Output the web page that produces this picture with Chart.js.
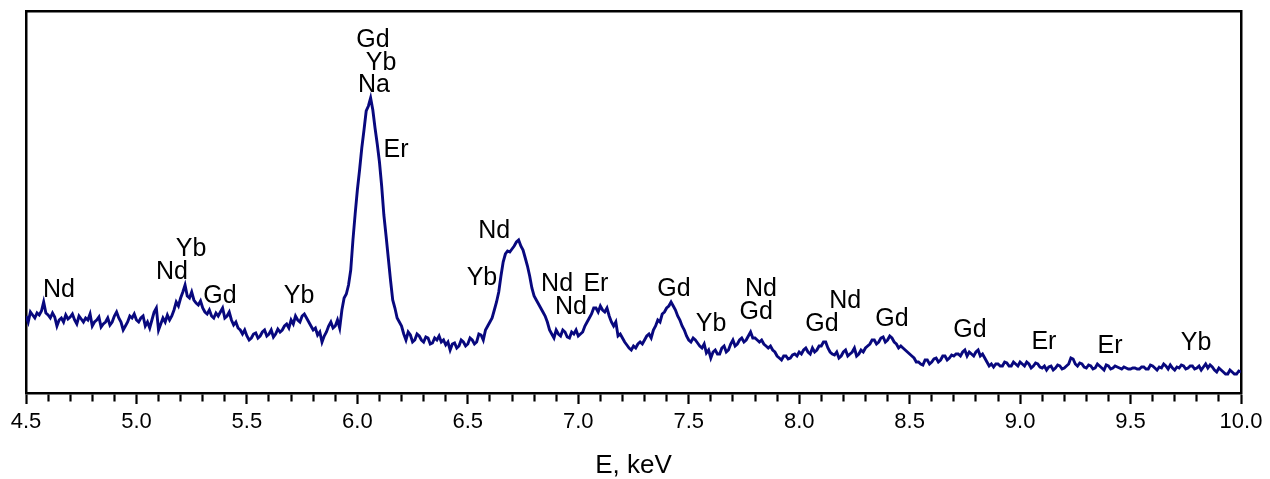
<!DOCTYPE html>
<html><head><meta charset="utf-8">
<style>html,body{margin:0;padding:0;background:#fff}#wrap{width:1270px;height:479px}</style>
<script src="https://cdn.jsdelivr.net/npm/chart.js@4.4.1/dist/chart.umd.min.js"></script>
</head><body><div id="wrap"><canvas id="c" width="1270" height="479"></canvas></div>
<script>
// Energy grid (keV) of the spectrum samples
const energyStart = 4.5;
const energyStep = 0.01;
// Counts (arbitrary units), one per 0.01 keV from 4.50 to 10.00
const counts = [
  76,70,80,77,74,79,77,81,90,79, 77,74,79,75,66,72,74,70,77,73, 75,78,72,68,76,73,70,74,72,78, 66,70,72,75,65,68,70,74,67,70, 76,80,74,70,62,66,70,76,74,78,
  72,70,74,76,66,70,64,72,80,84, 62,68,74,70,77,72,76,82,90,86, 94,100,107,96,94,100,92,89,87,91, 84,80,78,82,76,74,79,76,80,84, 74,76,80,72,67,70,64,62,58,62,
  56,52,54,58,59,54,56,60,62,56, 58,62,55,58,63,60,62,66,68,64, 72,68,76,72,70,76,78,74,70,66, 62,64,57,60,50,56,60,66,70,64, 66,72,64,82,94,98,107,122,152,178,
  202,222,244,262,281,286,294,282,264,248, 230,206,177,156,134,112,92,84,74,70, 66,58,52,60,57,50,52,58,56,52, 50,55,54,48,49,54,52,56,50,52, 47,50,42,48,49,44,46,52,50,46,
  48,54,52,48,50,58,57,52,62,66, 70,74,82,90,100,116,130,138,141,140, 143,146,150,152,146,142,134,126,116,104, 96,92,88,84,80,76,70,62,58,54, 62,58,56,62,60,55,54,60,58,62,
  56,58,60,66,70,74,78,84,84,80, 86,82,80,84,76,70,66,70,56,58, 54,50,47,44,42,46,44,48,50,48, 52,56,58,54,62,66,72,70,78,80, 84,86,90,86,82,76,72,66,62,56,
  52,50,54,52,49,46,44,48,39,42, 34,40,42,38,38,44,46,40,42,48, 52,46,48,52,54,50,52,56,60,54, 54,52,50,52,48,46,44,46,42,40, 36,34,32,36,36,33,34,37,38,36,
  40,38,42,44,40,38,44,40,42,46, 46,50,50,44,40,38,37,40,34,36, 40,42,36,38,40,44,36,38,42,40, 44,46,48,52,52,48,50,54,55,50, 52,56,54,50,48,44,46,44,42,40,
  38,36,34,30,30,28,27,32,32,28, 30,33,34,30,32,36,36,32,34,37, 36,38,38,36,40,42,36,40,38,36, 40,42,36,38,34,30,26,28,25,28, 28,26,26,30,29,26,26,30,28,26,
  30,28,26,30,28,24,26,29,28,25, 24,26,22,25,26,22,24,27,26,23, 24,26,28,34,33,28,26,29,28,25, 24,27,26,23,24,28,26,24,22,27, 26,23,24,26,25,24,23,25,24,23,
  23,24,24,23,23,25,25,23,23,27, 26,24,22,25,24,28,26,23,27,24, 22,25,24,27,26,23,24,26,26,23, 24,26,22,25,28,24,27,25,22,20, 24,22,20,18,18,22,20,18,18,21,
  20
];
const energies = counts.map((_, i) => +(energyStart + i * energyStep).toFixed(2));

// Axis range and tick labels
const xMin = 4.5, xMax = 10.0;
const xMajorLabels = ['4.5','5.0','5.5','6.0','6.5','7.0','7.5','8.0','8.5','9.0','9.5','10.0'];
const yMin = -1, yMax = 381;

// Element labels: text, energy (keV) and level (counts) of the text centre
const peakLabels      = ['Nd','Nd','Yb','Gd','Yb','Gd','Yb','Na','Er','Nd','Yb','Nd','Er','Nd','Gd','Yb','Nd','Gd','Gd','Nd','Gd','Gd','Er','Er','Yb'];
const peakLabelEnergy = [4.649,5.161,5.247,5.378,5.736,6.071,6.107,6.075,6.175,6.619,6.564,6.904,7.080,6.967,7.433,7.601,7.827,7.805,8.103,8.208,8.420,8.773,9.108,9.407,9.797];
const peakLabelLevel  = [102,120,143,96,96,352,329,307,242,161,114,108,108,85,103,68,103,80,68,91,73,62,50,46,49];

const FONT = '"Liberation Sans", Arial, Helvetica, sans-serif';
const isMajor = v => Math.abs(v * 2 - Math.round(v * 2)) < 1e-6;

const labelPlugin = {
  id: 'peakLabels',
  afterDatasetsDraw(chart) {
    const {ctx, scales: {x, y}} = chart;
    ctx.save();
    ctx.font = '25px ' + FONT;
    ctx.fillStyle = '#000';
    ctx.textAlign = 'center';
    ctx.textBaseline = 'middle';
    peakLabels.forEach((t, i) => {
      ctx.fillText(t, x.getPixelForValue(peakLabelEnergy[i]), y.getPixelForValue(peakLabelLevel[i]));
    });
    ctx.restore();
  }
};

const frameBorder = {display: true, color: '#000', width: 2.5};

new Chart(document.getElementById('c'), {
  type: 'line',
  data: {
    datasets: [{
      data: energies.map((e, i) => ({x: e, y: counts[i]})),
      borderColor: '#08087e',
      borderWidth: 2.9,
      pointRadius: 0,
      tension: 0,
      fill: false
    }]
  },
  options: {
    responsive: false,
    animation: false,
    devicePixelRatio: 1,
    layout: {padding: 0},
    plugins: {legend: {display: false}, tooltip: {enabled: false}},
    scales: {
      x: {
        type: 'linear', position: 'bottom', min: xMin, max: xMax,
        afterFit: s => { s.height = 86; },
        ticks: {
          stepSize: 0.1, autoSkip: false, maxRotation: 0, padding: 5,
          color: '#000', font: {family: FONT, size: 22},
          callback: v => {
            if (!isMajor(v)) return '';
            const idx = Math.round((v - xMin) * 2);
            return xMajorLabels[idx] ?? '';
          }
        },
        grid: {
          display: true, drawOnChartArea: false, drawTicks: true,
          tickLength: 11, tickWidth: 2.2, tickColor: '#000',
          tickBorderDash: ctx => (ctx.tick && isMajor(ctx.tick.value)) ? [] : [7, 40]
        },
        border: frameBorder,
        title: {display: true, text: 'E, keV', color: '#000', font: {family: FONT, size: 26, lineHeight: 1.0}, padding: {top: 0, bottom: 0}}
      },
      x2: {
        type: 'linear', position: 'top', min: xMin, max: xMax,
        afterFit: s => { s.height = 11; },
        ticks: {display: false},
        grid: {display: true, drawOnChartArea: false, drawTicks: false},
        border: frameBorder
      },
      y: {
        type: 'linear', position: 'left', min: yMin, max: yMax,
        afterFit: s => { s.width = 26; },
        ticks: {display: false},
        grid: {display: true, drawOnChartArea: false, drawTicks: false},
        border: frameBorder
      },
      y2: {
        type: 'linear', position: 'right', min: yMin, max: yMax,
        afterFit: s => { s.width = 29; },
        ticks: {display: false},
        grid: {display: true, drawOnChartArea: false, drawTicks: false},
        border: frameBorder
      }
    }
  },
  plugins: [labelPlugin]
});
</script>
</body></html>
